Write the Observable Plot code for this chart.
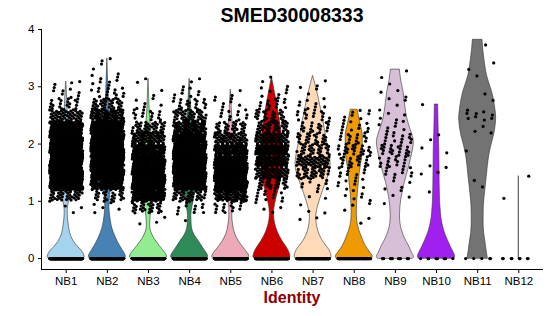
<!DOCTYPE html>
<html><head><meta charset="utf-8">
<script src="https://cdn.jsdelivr.net/npm/d3@7"></script>
<script src="https://cdn.jsdelivr.net/npm/@observablehq/plot@0.6"></script>
<style>
body{margin:0;background:#fff;}
#wrap{position:relative;width:550px;height:316px;font-family:"Liberation Sans",Arial,sans-serif;overflow:hidden;}
#title{position:absolute;left:41px;width:502px;top:3px;line-height:24px;font-size:19.5px;font-weight:bold;text-align:center;color:#000;}
#chart{position:absolute;left:0;top:24px;}
#xlabel{position:absolute;left:41px;width:502px;top:288px;line-height:20px;font-size:16px;font-weight:bold;color:#8B0000;text-align:center;}
</style>
</head><body>
<div id="wrap">
  <div id="title">SMED30008333</div>
  <div id="chart"></div>
  <div id="xlabel">Identity</div>
</div>
<script>
// ---- data ----
const categories = ["NB1","NB2","NB3","NB4","NB5","NB6","NB7","NB8","NB9","NB10","NB11","NB12"];
const colors = ["#A4D3EE","#4682B4","#90EE90","#2E8B57","#EEA9B8","#CD0000","#FFDAB9","#EE9A00","#D8BFD8","#A020F0","#737373","#F0E68C"];
const yTicks = [0, 1, 2, 3, 4];

// violin outlines: [expression level, relative half-width (1 = widest)]
const violinShapes = [
  [[0,0.95],[0.03,1],[0.08,0.95],[0.12,0.88],[0.2,0.65],[0.29,0.43],[0.4,0.26],[0.58,0.14],[0.82,0.08],[1.02,0.17],[1.2,0.3],[1.4,0.4],[1.6,0.42],[1.8,0.38],[2.0,0.3],[2.2,0.22],[2.4,0.14],[2.6,0.08],[2.8,0.05],[2.95,0.03],[3.09,0]],
  [[0,0.95],[0.03,1],[0.08,0.95],[0.15,0.82],[0.29,0.57],[0.45,0.35],[0.58,0.23],[0.75,0.15],[0.9,0.11],[1.1,0.15],[1.3,0.22],[1.5,0.3],[1.7,0.36],[1.9,0.36],[2.1,0.3],[2.3,0.22],[2.5,0.14],[2.7,0.09],[2.9,0.06],[3.1,0.04],[3.3,0.02],[3.49,0]],
  [[0,0.95],[0.03,1],[0.08,0.95],[0.15,0.78],[0.29,0.44],[0.42,0.2],[0.58,0.09],[0.75,0.12],[0.9,0.2],[1.05,0.3],[1.25,0.42],[1.45,0.44],[1.65,0.38],[1.85,0.3],[2.05,0.22],[2.3,0.13],[2.5,0.08],[2.7,0.05],[2.9,0.03],[3.14,0]],
  [[0,0.95],[0.03,1],[0.08,0.95],[0.15,0.8],[0.29,0.52],[0.42,0.25],[0.58,0.11],[0.75,0.09],[0.9,0.15],[1.1,0.27],[1.3,0.36],[1.5,0.42],[1.7,0.42],[1.9,0.36],[2.1,0.28],[2.3,0.19],[2.5,0.12],[2.7,0.07],[2.9,0.04],[3.14,0]],
  [[0,0.95],[0.03,1],[0.08,0.95],[0.15,0.78],[0.29,0.46],[0.42,0.25],[0.58,0.13],[0.75,0.08],[0.88,0.08],[1.05,0.17],[1.25,0.32],[1.45,0.4],[1.65,0.38],[1.85,0.3],[2.05,0.22],[2.25,0.14],[2.45,0.08],[2.65,0.05],[2.8,0.03],[2.95,0]],
  [[0,0.95],[0.03,1],[0.08,0.97],[0.15,0.88],[0.22,0.75],[0.3,0.58],[0.46,0.32],[0.6,0.18],[0.78,0.11],[0.95,0.17],[1.16,0.33],[1.35,0.48],[1.55,0.56],[1.8,0.6],[2.0,0.58],[2.2,0.52],[2.4,0.43],[2.62,0.32],[2.8,0.22],[3.0,0.1],[3.17,0]],
  [[0,0.95],[0.03,1],[0.08,0.97],[0.15,0.88],[0.22,0.72],[0.32,0.5],[0.46,0.3],[0.6,0.2],[0.72,0.17],[0.85,0.22],[0.98,0.33],[1.15,0.5],[1.33,0.7],[1.5,0.88],[1.65,0.95],[1.8,0.9],[2.0,0.78],[2.15,0.69],[2.4,0.56],[2.62,0.42],[2.85,0.27],[3.05,0.12],[3.19,0]],
  [[0,0.95],[0.03,1],[0.11,0.85],[0.22,0.62],[0.35,0.44],[0.47,0.3],[0.58,0.2],[0.7,0.15],[0.81,0.14],[1.0,0.16],[1.17,0.2],[1.35,0.26],[1.5,0.3],[1.75,0.42],[1.95,0.46],[2.15,0.46],[2.35,0.34],[2.5,0.24],[2.6,0.18]],
  [[0,0.95],[0.03,1],[0.1,0.9],[0.23,0.72],[0.35,0.52],[0.47,0.38],[0.6,0.28],[0.75,0.25],[0.9,0.27],[1.05,0.33],[1.17,0.4],[1.32,0.5],[1.46,0.62],[1.6,0.74],[1.75,0.85],[1.9,0.95],[2.03,1.0],[2.18,0.9],[2.33,0.74],[2.45,0.64],[2.56,0.58],[2.75,0.5],[2.91,0.44],[3.1,0.32],[3.3,0.24]],
  [[0,0.97],[0.04,1],[0.11,0.92],[0.22,0.75],[0.35,0.57],[0.47,0.43],[0.58,0.34],[0.72,0.26],[0.87,0.22],[1.0,0.19],[1.3,0.17],[1.6,0.16],[1.9,0.15],[2.2,0.12],[2.5,0.1],[2.69,0.09]],
  [[0,0.55],[0.1,0.5],[0.29,0.42],[0.45,0.35],[0.65,0.32],[0.9,0.33],[1.16,0.4],[1.45,0.5],[1.75,0.6],[1.95,0.72],[2.15,0.88],[2.35,0.98],[2.46,1.0],[2.62,0.95],[2.8,0.86],[2.91,0.78],[3.05,0.64],[3.2,0.5],[3.35,0.42],[3.49,0.36],[3.65,0.3],[3.82,0.26]],
  [[0,0],[1.44,0]]
];

// cell counts of non-zero expression, in bins of 0.2 starting at these levels
const binStarts = [0.6,0.8,1.0,1.2,1.4,1.6,1.8,2.0,2.2,2.4,2.6,2.8,3.0,3.2,3.4,3.6];
const binCounts = [
  [0,3,40,200,280,250,200,160,110,50,20,8,3,0,0,0],
  [0,5,25,100,200,260,270,230,150,80,35,15,8,3,2,0],
  [3,30,110,180,170,130,100,70,40,15,6,2,2,0,0,0],
  [2,10,40,120,190,200,170,130,80,40,20,8,3,0,0,0],
  [0,15,80,160,170,140,100,60,30,12,6,3,0,0,0,0],
  [0,4,12,30,60,90,100,70,40,25,14,7,3,0,0,0],
  [3,2,3,10,35,55,30,25,20,15,8,3,2,0,0,0],
  [2,3,6,8,10,20,25,15,10,8,0,0,0,0,0,0],
  [0,1,3,4,10,15,20,14,7,5,3,3,2,1,0,0],
  [0,0,1,0,3,1,2,2,0,0,1,0,0,0,0,0],
  [0,0,0,2,0,0,1,1,2,9,1,1,1,1,1,1],
  [0,0,1,0,1,0,0,0,0,0,0,0,0,0,0,0]
];
// cells with zero expression
const zeroCounts = [300,300,300,300,300,220,160,100,14,10,5,8];

// ---- build mark data ----
const binWidth = 0.2, violinHalf = 0.45, jitterHalf = 0.4;
const frac = v => v - Math.floor(v);
const points = [];
categories.forEach((c, g) => {
  const top = violinShapes[g][violinShapes[g].length - 1][0];
  let k = 0;
  const jx = () => (frac(0.5 + k * 0.7548776662 + g * 0.137) * 2 - 1) * jitterHalf;
  for (let i = 0; i < zeroCounts[g]; i++, k++) points.push({x: g + 1 + jx(), y: 0});
  binCounts[g].forEach((n, b) => {
    for (let i = 0; i < n; i++, k++) {
      const y = Math.min(top, binStarts[b] + binWidth * frac(0.5 + k * 0.5698402910 + g * 0.291));
      points.push({x: g + 1 + jx(), y});
    }
  });
});

const violinMarks = violinShapes.map((shape, g) =>
  Plot.areaX(shape.map(([y, w]) => ({y, x1: g + 1 - w * violinHalf, x2: g + 1 + w * violinHalf})), {
    y: "y", x1: "x1", x2: "x2", fill: colors[g], stroke: "#333", strokeWidth: 0.6, curve: "monotone-y"
  })
);

const xDomain = [0.4, 12.6], yDomain = [-0.19, 4];
const chart = Plot.plot({
  width: 550, height: 266,
  marginLeft: 41, marginRight: 7, marginTop: 5, marginBottom: 21,
  style: {fontFamily: "Liberation Sans, Arial, sans-serif", fontSize: "11.5px", color: "black", background: "white"},
  x: {domain: xDomain, axis: null},
  y: {domain: yDomain, axis: null},
  marks: [
    ...violinMarks,
    Plot.dot(points, {x: "x", y: "y", r: 1.6, fill: "black", stroke: null}),
    Plot.ruleX([xDomain[0]], {y1: yDomain[0], y2: yDomain[1], stroke: "black", strokeWidth: 1}),
    Plot.ruleY([yDomain[0]], {x1: xDomain[0], x2: xDomain[1], stroke: "black", strokeWidth: 1}),
    Plot.axisX({ticks: categories.map((c, i) => i + 1), tickFormat: d => categories[d - 1], tickSize: 4, tickPadding: 3, label: null, fontSize: 11.5}),
    Plot.axisY({ticks: yTicks, tickFormat: d => String(d), tickSize: 3, tickPadding: 4, label: null, fontSize: 11.5})
  ]
});
document.getElementById("chart").appendChild(chart);
</script>
</body></html>
